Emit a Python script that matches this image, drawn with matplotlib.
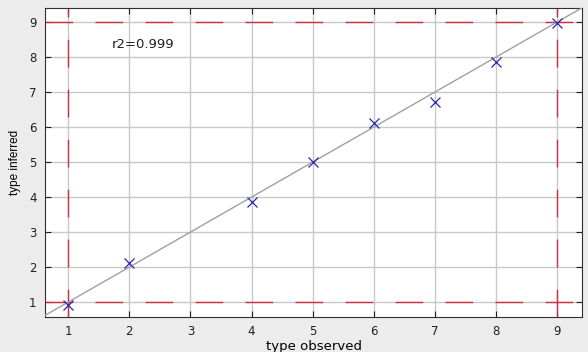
import matplotlib
matplotlib.use("Agg")
import matplotlib.pyplot as plt

plt.rcParams['font.family'] = ['DejaVu Sans']

# observed vs inferred type
observed = [1, 2, 4, 5, 6, 7, 8, 9]
inferred = [0.93, 2.13, 3.87, 5.0, 6.12, 6.72, 7.87, 8.98]
ticks = [1, 2, 3, 4, 5, 6, 7, 8, 9]
fit_x = [0.6, 9.45]
bounds = [1, 9]
r2_text = "r2=0.999"

fig = plt.figure(figsize=(5.88, 3.52), dpi=100, facecolor='#ececec')
ax = fig.add_axes([0.0765, 0.100, 0.9135, 0.877])
ax.set_facecolor('white')

ax.grid(True, color='#c8c8c8', lw=1, ls='-')
ax.set_axisbelow(True)

for b in bounds:
    ax.axhline(b, color='#cc3040', lw=1, dashes=(20, 16), zorder=2)
    ax.axvline(b, color='#cc3040', lw=1, dashes=(20, 16), zorder=2)

ax.plot(fit_x, fit_x, color='#a0a0a0', lw=1, zorder=3)
ax.plot(observed, inferred, 'x', color='#2828b0', ms=7, mew=0.9, zorder=4)

ax.text(1.72, 8.37, r2_text, fontsize=9.5, color='#202020', va='center')

ax.set_xlim(0.62, 9.41)
ax.set_ylim(0.58, 9.4)
ax.set_xticks(ticks)
ax.set_yticks(ticks)
ax.tick_params(direction='in', top=True, right=True, labelsize=8.5, length=4,
               colors='#202020', pad=6)
for s in ax.spines.values():
    s.set_color('#303030')

ax.set_xlabel('type observed', fontsize=9.5, labelpad=1)
ax.set_ylabel('type inferred', fontsize=8.5, labelpad=6,
              family=['Liberation Sans'])

fig.savefig('out.png', dpi=100, facecolor=fig.get_facecolor())
